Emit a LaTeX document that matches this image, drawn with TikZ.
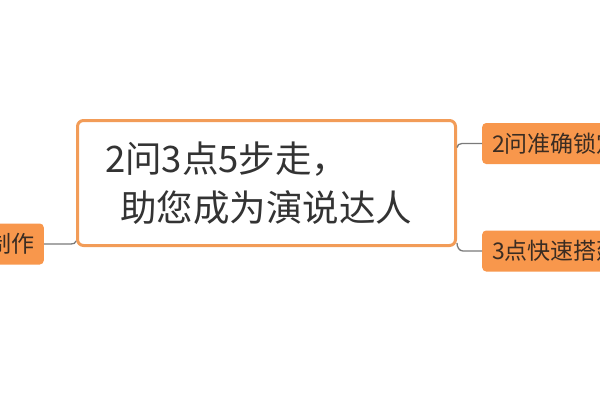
\documentclass[tikz,border=0pt]{standalone}
\usepackage{fontspec}
\setmainfont{Noto Sans CJK SC}
\usetikzlibrary{calc}
\definecolor{boxorange}{HTML}{F29C58}
\definecolor{subfill}{HTML}{F8974C}
\definecolor{maintext}{HTML}{333333}
\definecolor{subtext}{HTML}{3A2C22}
\definecolor{connc}{HTML}{7A7A7A}
\tikzset{
  mainbox/.style={draw=boxorange, line width=3pt, fill=white, rounded corners=6pt,
    minimum width=378pt, minimum height=125pt, inner sep=0pt},
  maintxt/.style={text=maintext, inner sep=0pt, font=\fontsize{36.5}{42}\selectfont},
  subnode/.style={fill=subfill, rounded corners=4pt, text=subtext, inner xsep=10pt,
    inner ysep=0pt, minimum height=41pt, font=\fontsize{23}{26}\selectfont},
  conn/.style={draw=connc, line width=1.3pt}
}
\begin{document}
\begin{tikzpicture}[x=1pt,y=-1pt]
\useasboundingbox (0,0) rectangle (600,400);
\node[mainbox] (main) at (266.5,183) {};
\node[maintxt, anchor=base west] (t1) at (105,172.5) {2问3点5步走，};
\node[maintxt, anchor=base west] (t2) at (120,221) {助您成为演说达人};
\node[subnode, anchor=east, inner xsep=9pt] (L) at (44,244) {制作};
\node[subnode, anchor=west] (R1) at (482,143.5) {2问准确锁定};
\node[subnode, anchor=west] (R2) at (482,251) {3点快速搭建};
\draw[conn] ($(main.south west)+(0,-6)$) to[out=-90,in=0] ($(L.east -| main.west)+(-5,0)$) -- (L.east);
\draw[conn] ($(R1.west -| main.east)+(0,4)$) to[out=90,in=180] ($(R1.west -| main.east)+(5,0)$) -- (R1.west);
\draw[conn] ($(main.south east)+(0,-4)$) to[out=-90,in=180] ($(R2.west -| main.east)+(6,0)$) -- (R2.west);
\end{tikzpicture}
\end{document}
